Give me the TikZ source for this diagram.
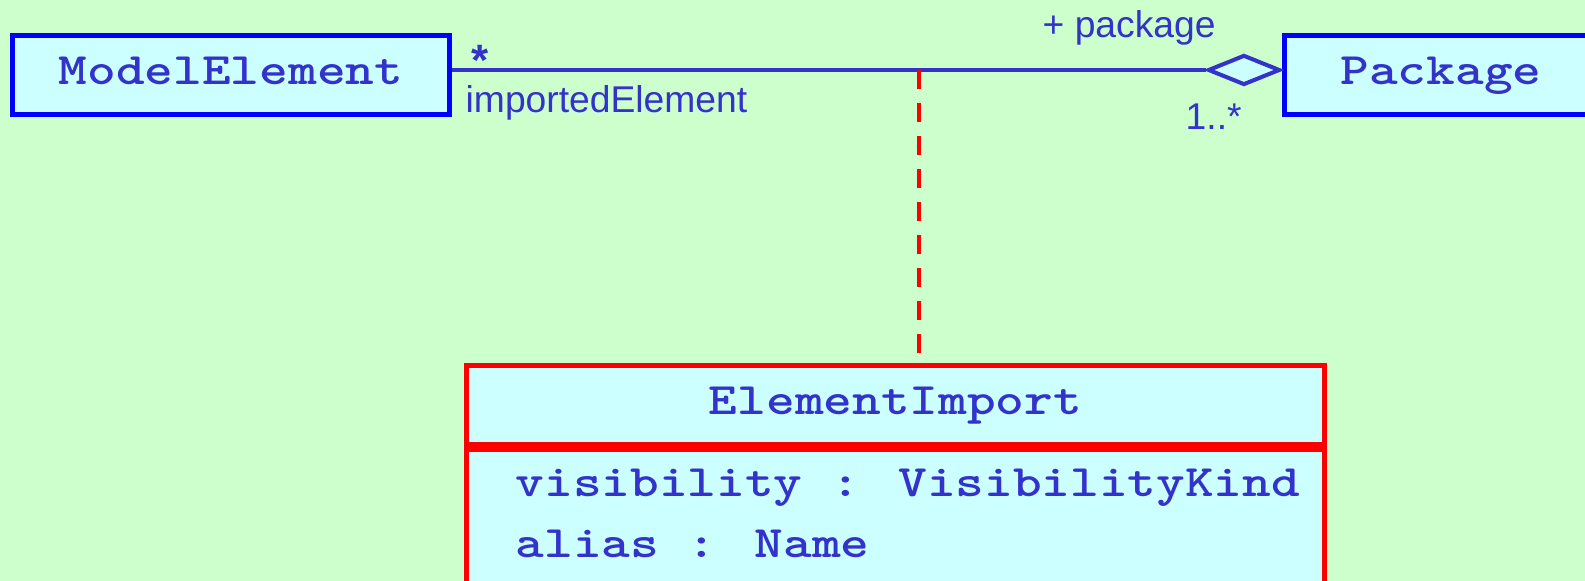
\documentclass[tikz,border=0pt]{standalone}
\usepackage{fontspec}
\setmainfont{Liberation Sans}
\newfontfamily\umlmono{lmmonolt10-bold.otf}[FakeStretch=1.215]
\definecolor{umlBack}{RGB}{204,255,204}
\definecolor{umlFill}{RGB}{204,255,255}
\definecolor{umlBlue}{RGB}{0,0,255}
\definecolor{umlText}{RGB}{51,51,204}
\definecolor{umlRed}{RGB}{255,0,0}
\usetikzlibrary{positioning,shapes.geometric}

\begin{document}
\begin{tikzpicture}[x=0.1mm, y=-0.1mm,
    classbox/.style={draw=umlBlue, fill=umlFill, line width=1.3pt, inner sep=0pt,
        minimum height=7.95mm, text height=2.9mm, text depth=0.9mm, text=umlText,
        font=\umlmono\fontsize{12.8}{15}\selectfont},
    attrtext/.style={text=umlText, inner sep=0pt, anchor=base west, font=\umlmono\fontsize{12.8}{15}\selectfont},
    roletext/.style={text=umlText, inner sep=0pt, anchor=base west, font=\fontsize{10.6}{12}\selectfont},
    assoc/.style={draw=umlText, line width=1.15pt},
    aggr/.style={diamond, draw=umlText, fill=umlFill, line width=1.15pt, inner sep=0pt,
        minimum width=7.2mm, minimum height=3.0mm},
    depline/.style={draw=umlRed, line width=1.3pt, dash pattern=on 1.9mm off 1.4mm}]
    \useasboundingbox (0,0) rectangle (1585,581);
    \fill[umlBack] (0,0) rectangle (1585,581);
    \clip (0,0) rectangle (1585,581);

    % classes
    \node[classbox, minimum width=43.75mm] (modelEl) at (231,75) {ModelElement};
    \node[classbox, minimum width=31.35mm] (pkg) at (1441,75) {Package};
    \node[classbox, draw=umlRed, minimum width=85.85mm] (imp) at (895.5,405) {ElementImport};
    \node[classbox, draw=umlRed, minimum width=85.85mm, minimum height=17mm, below=0pt of imp] (impAttr) {};
    \node[attrtext] (visAttr) at (515,497) {visibility : VisibilityKind};
    \node[attrtext] (aliasAttr) at (515,558) {alias : Name};

    % association with aggregation end
    \coordinate (lnk) at (919,70);
    \node[aggr, anchor=east] (aggrEnd) at (pkg.west |- lnk) {};
    \draw[assoc] (modelEl.east |- lnk) -- (aggrEnd.west);
    \draw[depline] (lnk) -- (lnk |- imp.north);

    % role names and multiplicities
    \node[roletext, anchor=base, text depth=0pt, font=\bfseries\fontsize{12.5}{14}\selectfont] (multStar) at (480,76) {*};
    \node[roletext, text height=2.3mm] (roleImp) at (465,113) {importedElement};
    \node[roletext] (rolePkg) at (1042,38) {+ package};
    \node[roletext] (multPkg) at (1185,130) {1..*};
\end{tikzpicture}
\end{document}
